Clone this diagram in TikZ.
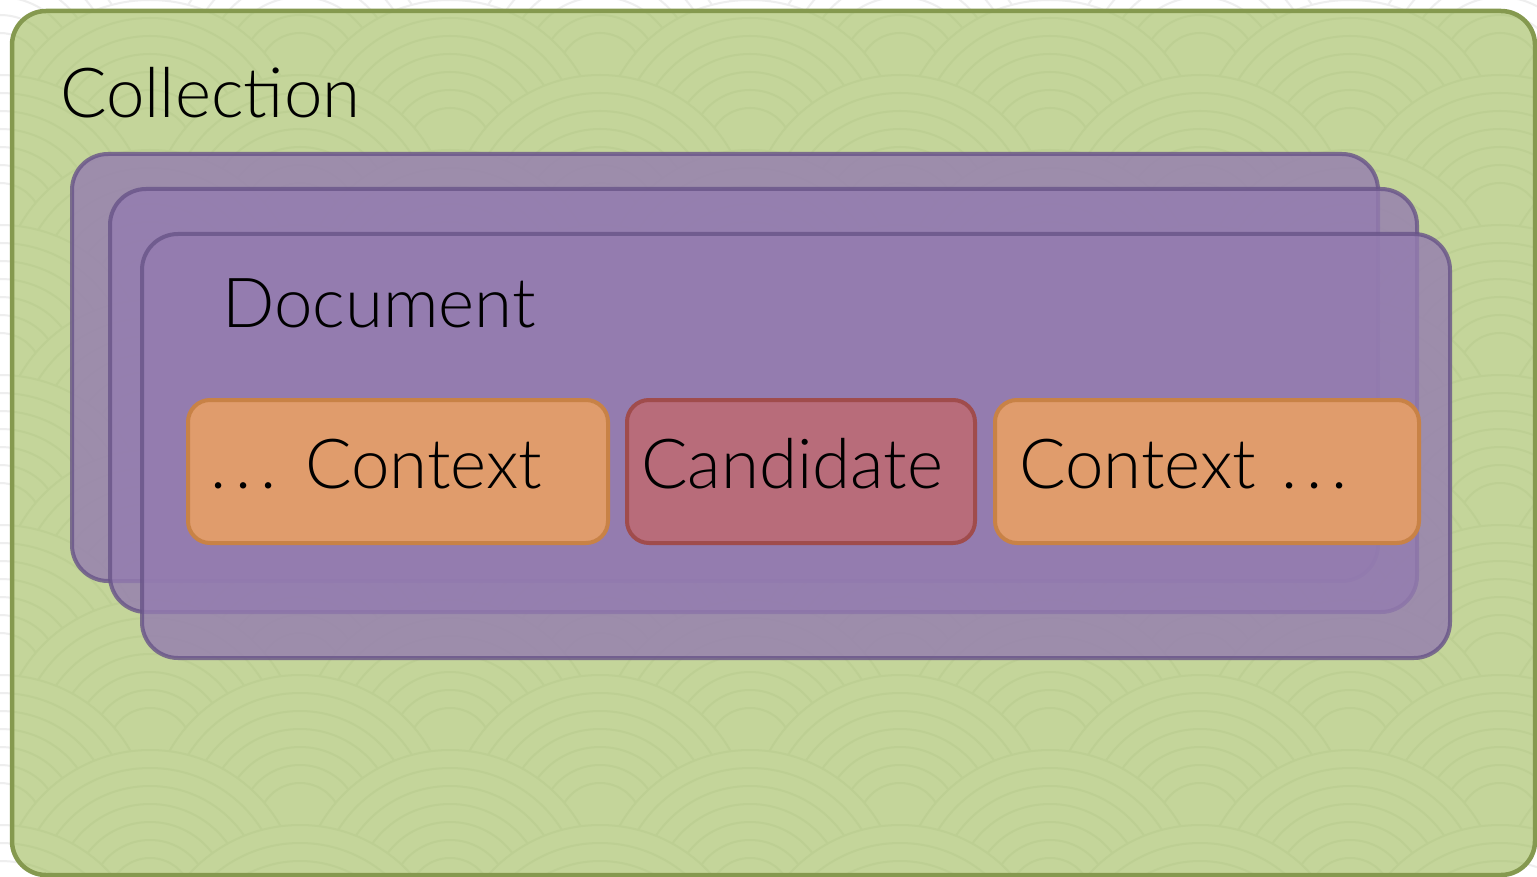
\documentclass[tikz,border=0pt]{standalone}
\usepackage{fontspec}
\setmainfont{Lato}[UprightFont={* Light}]
\definecolor{collfill}{HTML}{C4D59A}
\definecolor{collline}{HTML}{85994F}
\definecolor{collwave}{HTML}{BDCF93}
\definecolor{pagewave}{HTML}{EEEEEE}
\definecolor{docfill}{HTML}{947CB0}
\definecolor{docline}{HTML}{685488}
\definecolor{ctxfill}{HTML}{E09C6C}
\definecolor{ctxline}{HTML}{C88246}
\definecolor{candfill}{HTML}{B86C7A}
\definecolor{candline}{HTML}{A04C4C}
% seigaiha wave background: #1 fill colour, #2 ring colour
\newcommand{\drawwaves}[2]{%
  \foreach \row in {0,...,14} {%
    \pgfmathsetmacro\yy{-75+\row*75}%
    \pgfmathsetmacro\off{mod(\row,2)*150}%
    \foreach \col in {-1,...,6} {%
      \pgfmathsetmacro\xx{\col*300+\off}%
      \fill[#1] (\xx,\yy) circle[radius=150pt];
      \foreach \r in {150,132,...,40}
        \draw[#2,line width=2pt] (\xx,\yy) circle[radius=\r pt];
    }%
  }%
}
% widely spaced ellipsis
\newcommand{\spdots}{.\kern9pt.\kern9pt.}
\tikzset{
  docbox/.style={draw=docline,fill=docfill,opacity=0.8,line width=4pt,
    rounded corners=36pt,inner sep=0pt},
  ctxbox/.style={draw=ctxline,fill=ctxfill,line width=4pt,
    rounded corners=22pt,inner sep=0pt,minimum height=143pt},
  candbox/.style={draw=candline,fill=candfill,line width=4pt,
    rounded corners=22pt,inner sep=0pt,minimum height=143pt},
  lbl/.style={anchor=base west,inner sep=0pt,font=\fontsize{69}{78}\selectfont}
}
\begin{document}
\begin{tikzpicture}[x=1pt,y=-1pt]
\useasboundingbox (0,0) rectangle (1537,877);
% page background
\begin{scope}
  \clip (0,0) rectangle (1537,877);
  \drawwaves{white}{pagewave}
\end{scope}
% collection panel
\begin{scope}
  \clip[rounded corners=34pt] (12,11) rectangle (1535,875);
  \drawwaves{collfill}{collwave}
\end{scope}
\draw[collline,line width=4.5pt,rounded corners=34pt] (12,11) rectangle (1535,875);
\node[lbl] (collection) at (60,118) {Collection};
% stacked documents
\node[docbox,minimum width=1306pt,minimum height=427pt] (docback) at (725,367.5) {};
\node[docbox,minimum width=1307pt,minimum height=423pt] (docmid) at (763.5,400.5) {};
\node[docbox,minimum width=1308pt,minimum height=424pt] (docfront) at (796,446) {};
\node[lbl] (document) at (222,328) {Document};
% token windows
\node[ctxbox,minimum width=420pt] (leftctx) at (398,471.5) {};
\node[candbox,minimum width=348pt] (cand) at (801,471.5) {};
\node[ctxbox,minimum width=424pt] (rightctx) at (1207,471.5) {};
\node[lbl] (leftlbl) at (210,488) {\spdots\kern10pt\ Context};
\node[lbl] (candlbl) at (641,488) {Candidate};
\node[lbl] (rightlbl) at (1019,488) {Context\kern6pt\ \spdots};
\end{tikzpicture}
\end{document}
